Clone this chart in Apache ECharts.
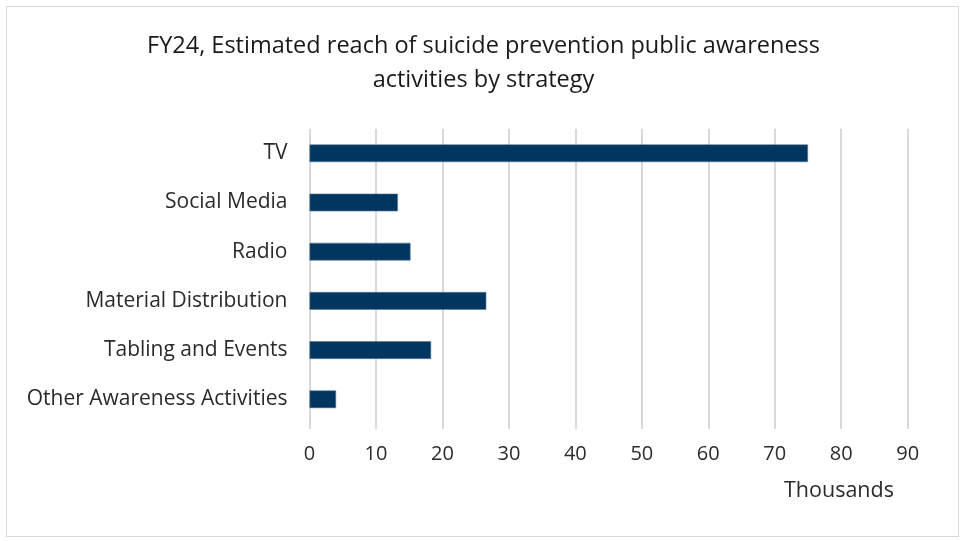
<!DOCTYPE html>
<html>
<head>
<meta charset="utf-8">
<script src="https://cdn.jsdelivr.net/npm/echarts@6/dist/echarts.min.js"></script>
<style>
html,body{margin:0;padding:0;background:#fff;}
#wrap{position:absolute;left:6px;top:6px;width:953px;height:531px;border:1.5px solid #d9d9d9;box-sizing:border-box;}
#chart{position:absolute;left:0;top:0;width:967px;height:541px;}
</style>
</head>
<body>
<div id="wrap"></div>
<div id="chart"></div>
<script>
const categories = ["TV", "Social Media", "Radio", "Material Distribution", "Tabling and Events", "Other Awareness Activities"];
const reachThousands = [75, 13.3, 15.2, 26.6, 18.3, 4.0];
const tickValues = [0, 10, 20, 30, 40, 50, 60, 70, 80, 90];

const FONT = "'Open Sans', sans-serif";
const chart = echarts.init(document.getElementById('chart'), null, {renderer: 'canvas'});
chart.setOption({
  animation: false,
  backgroundColor: 'transparent',
  title: {
    text: 'FY24, Estimated reach of suicide prevention public awareness\nactivities by strategy',
    left: 'center',
    top: 24,
    textStyle: {fontFamily: FONT, fontSize: 23.5, fontWeight: 'normal', color: '#1a1a1a', lineHeight: 34}
  },
  grid: {left: 309.5, right: 59.3, top: 128.7, bottom: 117.1, containLabel: false},
  xAxis: {
    type: 'value',
    min: tickValues[0],
    max: tickValues[tickValues.length - 1],
    interval: 10,
    axisLine: {show: false},
    axisTick: {show: true, length: 5, lineStyle: {color: '#d9d9d9', width: 2}},
    splitLine: {show: true, lineStyle: {color: '#d9d9d9', width: 2}},
    axisLabel: {margin: 20, fontFamily: FONT, fontSize: 20, color: '#2b2b2b'}
  },
  yAxis: {
    type: 'category',
    data: categories,
    inverse: true,
    axisLine: {show: false},
    axisTick: {show: false},
    axisLabel: {margin: 22, fontFamily: FONT, fontSize: 21, color: '#2b2b2b'}
  },
  series: [{
    type: 'bar',
    data: reachThousands,
    barCategoryGap: '64%',
    itemStyle: {color: '#00365f', borderColor: '#5a7a98', borderWidth: 0.6}
  }],
  graphic: [{
    type: 'text',
    left: 784,
    top: 480,
    style: {text: 'Thousands', fontFamily: FONT, fontSize: 21.5, fill: '#2b2b2b'}
  }]
});
</script>
</body>
</html>
